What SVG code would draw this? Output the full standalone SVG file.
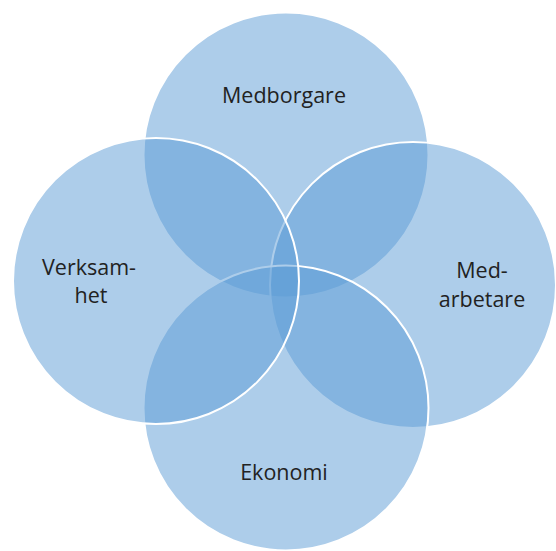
<svg xmlns="http://www.w3.org/2000/svg" width="556" height="551" viewBox="0 0 556 551">
<style>
.c{fill:#5B9BD5;fill-opacity:0.5;stroke:#ffffff;stroke-width:2}
.t{font-family:"Open Sans","Noto Sans","Liberation Sans",sans-serif;font-size:21.5px;fill:#222222;text-anchor:middle}
</style>
<rect width="556" height="551" fill="#ffffff"/>
<g id="medborgare"><circle class="c" cx="286" cy="155" r="142.5"/><text class="t" x="284" y="103">Medborgare</text></g>
<g id="medarbetare"><circle class="c" cx="413" cy="285" r="143"/><text class="t" x="482" y="278">Med-</text><text class="t" x="482" y="307">arbetare</text></g>
<g id="ekonomi"><circle class="c" cx="286" cy="408" r="142.5"/><text class="t" x="284" y="480">Ekonomi</text></g>
<g id="verksamhet"><circle class="c" cx="156" cy="281" r="143"/><text class="t" x="89" y="275">Verksam-</text><text class="t" x="91" y="303">het</text></g>
<g id="connectors"></g>
</svg>
